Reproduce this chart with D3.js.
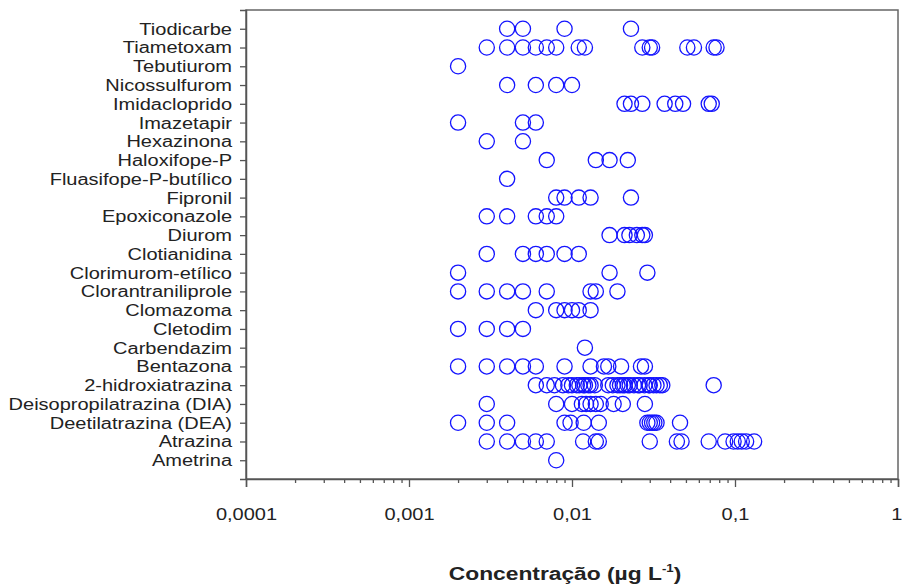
<!DOCTYPE html>
<html>
<head>
<meta charset="utf-8">
<script src="https://cdn.jsdelivr.net/npm/d3@7"></script>
<style>
  body { margin: 0; background: #fff; }
  text { font-family: "Liberation Sans", Arial, sans-serif; fill: #222; }
</style>
</head>
<body>
<div id="app"></div>
<script>
// compounds, top to bottom
const categories = [
  "Tiodicarbe", "Tiametoxam", "Tebutiurom", "Nicossulfurom", "Imidacloprido",
  "Imazetapir", "Hexazinona", "Haloxifope-P", "Fluasifope-P-butílico", "Fipronil",
  "Epoxiconazole", "Diurom", "Clotianidina", "Clorimurom-etílico", "Clorantraniliprole",
  "Clomazoma", "Cletodim", "Carbendazim", "Bentazona", "2-hidroxiatrazina",
  "Deisopropilatrazina (DIA)", "Deetilatrazina (DEA)", "Atrazina", "Ametrina"
];

// concentrations (µg/L)
const tiodicarbe = [0.004, 0.005, 0.009, 0.023];
const tiametoxam = [0.003, 0.004, 0.005, 0.006, 0.007, 0.008, 0.011, 0.012, 0.027, 0.030, 0.031, 0.051, 0.056, 0.074, 0.077];
const tebutiurom = [0.002];
const nicossulfurom = [0.004, 0.006, 0.008, 0.010];
const imidacloprido = [0.021, 0.023, 0.027, 0.037, 0.043, 0.048, 0.069, 0.072];
const imazetapir = [0.002, 0.005, 0.006];
const hexazinona = [0.003, 0.005];
const haloxifope = [0.007, 0.014, 0.017, 0.022];
const fluasifope = [0.004];
const fipronil = [0.008, 0.009, 0.011, 0.013, 0.023];
const epoxiconazole = [0.003, 0.004, 0.006, 0.007, 0.008];
const diurom = [0.017, 0.021, 0.0225, 0.025, 0.027, 0.028];
const clotianidina = [0.003, 0.005, 0.006, 0.007, 0.009, 0.011];
const clorimurom = [0.002, 0.017, 0.029];
const clorantraniliprole = [0.002, 0.003, 0.004, 0.005, 0.007, 0.013, 0.014, 0.019];
const clomazoma = [0.006, 0.008, 0.009, 0.010, 0.011, 0.013];
const cletodim = [0.002, 0.003, 0.004, 0.005];
const carbendazim = [0.012];
const bentazona = [0.002, 0.003, 0.004, 0.005, 0.006, 0.009, 0.013, 0.0157, 0.0167, 0.020, 0.0265, 0.028];
const hidroxiatrazina = [0.006, 0.007, 0.0078, 0.0088, 0.0095, 0.010, 0.0107, 0.0111, 0.0117, 0.012, 0.0126, 0.013, 0.0138,
  0.0167, 0.0178, 0.019, 0.0197, 0.0205, 0.021, 0.022, 0.0226, 0.024, 0.0254, 0.026, 0.0278, 0.0296, 0.030, 0.0316,
  0.033, 0.0346, 0.0358, 0.074];
const dia = [0.003, 0.008, 0.010, 0.0115, 0.0122, 0.013, 0.014, 0.015, 0.018, 0.0205, 0.028];
const dea = [0.002, 0.003, 0.004, 0.009, 0.0098, 0.0118, 0.0146, 0.029, 0.030, 0.031, 0.032, 0.033, 0.046];
const atrazina = [0.003, 0.004, 0.005, 0.006, 0.007, 0.0117, 0.014, 0.0146, 0.030, 0.044, 0.047, 0.069, 0.087, 0.098, 0.104, 0.11, 0.117, 0.131];
const ametrina = [0.008];

const seriesValues = [
  tiodicarbe, tiametoxam, tebutiurom, nicossulfurom, imidacloprido, imazetapir, hexazinona,
  haloxifope, fluasifope, fipronil, epoxiconazole, diurom, clotianidina, clorimurom,
  clorantraniliprole, clomazoma, cletodim, carbendazim, bentazona, hidroxiatrazina,
  dia, dea, atrazina, ametrina
];

const majorTicks = [0.0001, 0.001, 0.01, 0.1, 1];
const majorLabels = ["0,0001", "0,001", "0,01", "0,1", "1"];

const width = 902;
const height = 586;
const plotLeft = 246, plotRight = 898, plotTop = 10, plotBottom = 479;
const stretch = 1.25; // text in the original is wide

const xScale = d3.scaleLog().domain([0.0001, 1]).range([plotLeft, plotRight]);
const yScale = d3.scaleLinear().domain([0, categories.length + 1]).range([plotBottom, plotTop]);
const rowY = i => yScale(categories.length - i);

const points = [];
seriesValues.forEach((vals, i) => vals.forEach(v => points.push({ i, v })));

const svg = d3.select("#app").append("svg")
  .attr("width", width)
  .attr("height", height);

// frame
svg.append("rect")
  .attr("x", plotLeft).attr("y", plotTop)
  .attr("width", plotRight - plotLeft).attr("height", plotBottom - plotTop)
  .attr("fill", "none")
  .attr("stroke", "#666")
  .attr("stroke-width", 1.5);

// y axis: one tick per compound
const yAxis = svg.append("g")
  .attr("id", "y-axis")
  .attr("transform", `translate(${plotLeft},0)`)
  .call(d3.axisLeft(yScale)
    .tickValues(d3.range(1, categories.length + 1))
    .tickSize(6)
    .tickFormat(d => categories[categories.length - d]));
yAxis.select(".domain").attr("stroke", "#555").attr("stroke-width", 1.5);
yAxis.selectAll(".tick line").attr("stroke", "#555").attr("stroke-width", 1.3);
yAxis.selectAll(".tick text")
  .attr("x", -14 / stretch)
  .attr("dy", "0.34em")
  .attr("transform", `scale(${stretch},1)`)
  .style("font-size", "16px")
  .style("fill", "#222");

// x axis: minor ticks then major ticks
const minorTicks = [];
for (let e = -4; e < 0; e++) for (let m = 2; m <= 9; m++) minorTicks.push(m * Math.pow(10, e));

const xMinor = svg.append("g")
  .attr("transform", `translate(0,${plotBottom})`)
  .call(d3.axisBottom(xScale).tickValues(minorTicks).tickSize(4).tickFormat(""));
xMinor.select(".domain").remove();
xMinor.selectAll(".tick line").attr("stroke", "#555").attr("stroke-width", 1.3);

const xAxis = svg.append("g")
  .attr("id", "x-axis")
  .attr("transform", `translate(0,${plotBottom})`)
  .call(d3.axisBottom(xScale).tickValues(majorTicks).tickSize(8)
    .tickFormat((d, k) => majorLabels[k]));
xAxis.select(".domain").attr("stroke", "#555").attr("stroke-width", 1.5);
xAxis.selectAll(".tick line").attr("stroke", "#555").attr("stroke-width", 1.3);
xAxis.selectAll(".tick text")
  .attr("y", 0)
  .attr("dy", 0)
  .attr("transform", `translate(0,41) scale(${stretch},1)`)
  .style("font-size", "16px")
  .style("fill", "#222");
// the last label sits against the right edge
xAxis.selectAll(".tick text").filter((d, k) => k === majorTicks.length - 1)
  .attr("text-anchor", "end")
  .attr("x", 3);

// circles
svg.append("g")
  .selectAll("circle")
  .data(points)
  .join("circle")
  .attr("cx", d => xScale(d.v))
  .attr("cy", d => rowY(d.i))
  .attr("r", 7.6)
  .attr("fill", "none")
  .attr("stroke", "#1414ff")
  .attr("stroke-width", 1.3);

// axis title
const title = svg.append("text")
  .attr("transform", `translate(565,580) scale(1.2,1)`)
  .attr("text-anchor", "middle")
  .style("font-size", "19px")
  .style("font-weight", "bold");
title.append("tspan").text("Concentração (µg L");
title.append("tspan").attr("dy", -8).style("font-size", "11px").text("-1");
title.append("tspan").attr("dy", 8).text(")");
</script>
</body>
</html>
